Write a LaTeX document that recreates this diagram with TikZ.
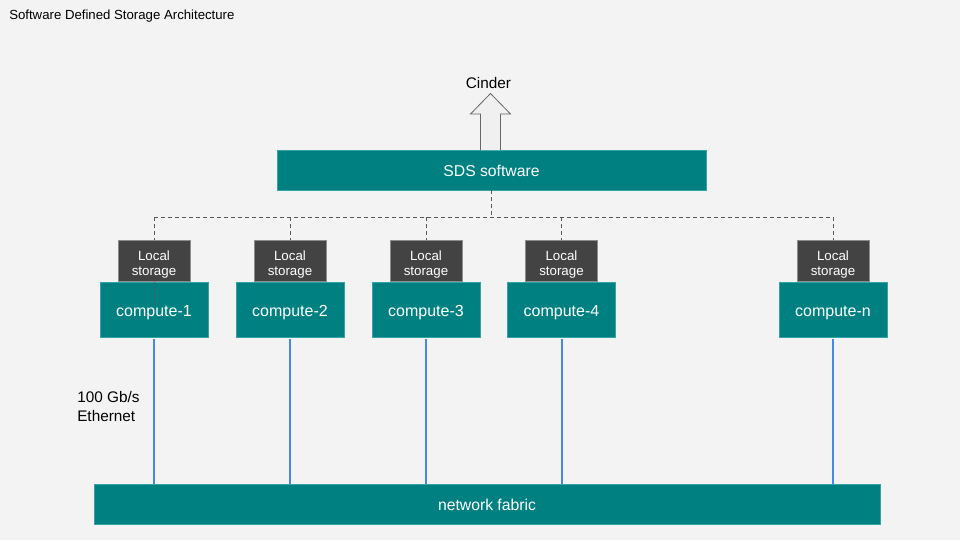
\documentclass[tikz,border=0pt]{standalone}
\usepackage{fontspec}
\setmainfont{Liberation Sans}
\usepackage{color}

\definecolor{bggray}{HTML}{F3F3F3}
\definecolor{sdsteal}{HTML}{008080}
\definecolor{tealedge}{HTML}{33A3A3}
\definecolor{storegray}{HTML}{434343}
\definecolor{storeedge}{HTML}{8C8C8C}
\definecolor{ethblue}{HTML}{4A86E8}
\definecolor{dashgray}{HTML}{595959}

\tikzset{
  tealbox/.style={fill=sdsteal, draw=tealedge, line width=0.6pt, text=white,
    inner sep=0pt, text height=10pt, text depth=0pt, font=\fontsize{11.8}{14}\selectfont},
  storebox/.style={fill=storegray, draw=storeedge, line width=0.6pt, text=white,
    inner sep=0pt, minimum width=54pt, minimum height=30.75pt,
    font=\fontsize{10}{11.25}\selectfont},
  computebox/.style={tealbox, minimum width=81pt, minimum height=41.25pt,
    font=\fontsize{12}{14}\selectfont},
  dashline/.style={color=dashgray, line width=0.75pt, dash pattern=on 3pt off 2.25pt},
  ethline/.style={color=ethblue, line width=1.5pt},
}
\newcommand{\storelabel}{\raisebox{0pt}[0pt][1pt]{\begin{tabular}[t]{@{}c@{}}Local\\storage\end{tabular}}}

\begin{document}
\begin{tikzpicture}[%
      x=0.75pt, y=-0.75pt,
      ]
      \fill [bggray] (0,0) rectangle (960,540);

      \node [anchor=west, inner sep=0pt, font=\fontsize{9.9}{12}\selectfont] (title) at (9,16.5) {Software Defined Storage Architecture};

      % SDS and Cinder
      \node [tealbox, minimum width=321.75pt, minimum height=30pt] (sds) at (491.5,170) {SDS software};
      \draw [color=gray!80!black, fill=gray!12, line width=0.6pt] (480.5,150) -- (480.5,114) -- (470.5,114) -- (490.5,93.5) -- (510.5,114) -- (500.5,114) -- (500.5,150);
      \node [inner sep=0pt, font=\fontsize{11.5}{14}\selectfont] (cinder) at (488.5,83) {Cinder};

      % compute nodes
      \node [computebox] (comp1) at (154,309.5) {compute-1};
      \node [computebox] (comp2) at (290,309.5) {compute-2};
      \node [computebox] (comp3) at (426,309.5) {compute-3};
      \node [computebox] (comp4) at (561.5,309.5) {compute-4};
      \node [computebox] (compn) at (833,309.5) {compute-n};

      % dashed bus
      \draw [dashline] (sds.south) -- ++(0,27) coordinate (bus);
      \draw [dashline] (comp1.north |- bus) -- (compn.north |- bus);
      \draw [dashline] (comp1.north |- bus) -- ([yshift=2.5pt]comp1.center);
      \foreach \c in {2,3,4,n}
        \draw [dashline] (comp\c.north |- bus) -- (comp\c.north);

      % local storage
      \foreach \c in {1,2,3,4,n}
        \node [storebox, anchor=south] (stor\c) at (comp\c.north) {\storelabel};

      % network fabric
      \node [tealbox, minimum width=589.5pt, minimum height=30pt] (fabric) at (487,504) {network fabric};
      \foreach \c in {1,2,3,4,n}
        \draw [ethline] ([yshift=-1pt]comp\c.south) -- (comp\c.south |- fabric.north);

      \node [anchor=west, align=left, inner sep=0pt, font=\fontsize{11.5}{14.25}\selectfont] (eth) at (77,406.5) {100 Gb/s\\Ethernet};
      \end{tikzpicture}
\end{document}
